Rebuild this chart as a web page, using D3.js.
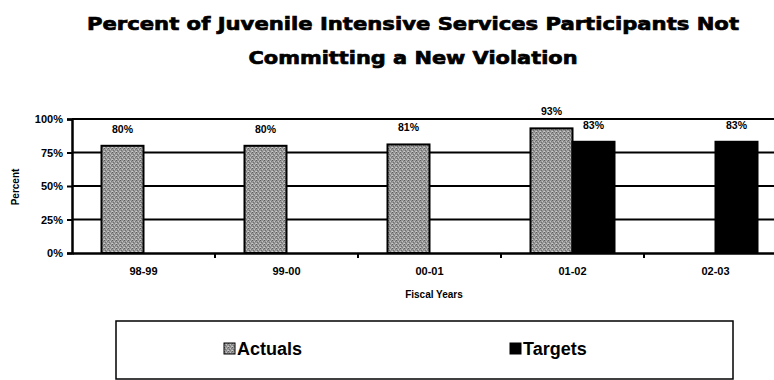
<!DOCTYPE html>
<html>
<head>
<meta charset="utf-8">
<script src="https://cdn.jsdelivr.net/npm/d3@7"></script>
<style>
  html, body { margin: 0; padding: 0; background: #fff; }
  svg { display: block; }
</style>
</head>
<body>
<svg id="chart" width="774" height="380"></svg>
<script>
// Fiscal years and the two series
const fiscalYears = ["98-99", "99-00", "00-01", "01-02", "02-03"];
const actuals = [80, 80, 81, 93, null];
const targets = [null, null, null, 83, 83];
const seriesNames = ["Actuals", "Targets"];
const yTicks = [0, 25, 50, 75, 100];

const titleLines = [
  "Percent of Juvenile Intensive Services Participants Not",
  "Committing a New Violation"
];

const svg = d3.select("#chart");

// Dotted grey fill for the actuals bars
const defs = svg.append("defs");
const pat = defs.append("pattern")
  .attr("id", "stipple").attr("patternUnits", "userSpaceOnUse")
  .attr("width", 4).attr("height", 4);
pat.append("rect").attr("width", 4).attr("height", 4).attr("fill", "#999");
[[0,0,"#5e5e5e"],[2,1,"#c4c4c4"],[1,2,"#6e6e6e"],[3,3,"#b8b8b8"],[3,1,"#7c7c7c"],[0,3,"#cccccc"],[2,3,"#808080"]]
  .forEach(([x, y, c]) => pat.append("rect").attr("x", x).attr("y", y)
    .attr("width", 1).attr("height", 1).attr("fill", c));

const plot = { left: 72, right: 787, top: 119, bottom: 253 };

const x0 = d3.scaleBand().domain(fiscalYears).range([plot.left, plot.right]).padding(0);
const bw = x0.bandwidth();
const x1 = d3.scaleBand().domain(seriesNames).range([bw / 2 - 42, bw / 2 + 42]).padding(0);
const y = d3.scaleLinear().domain([0, 100]).range([plot.bottom, plot.top]);

// Title
svg.append("g").selectAll("text").data(titleLines).join("text")
  .attr("x", 413).attr("y", (d, i) => 30 + i * 34)
  .attr("text-anchor", "middle")
  .attr("font-family", "DejaVu Sans, sans-serif")
  .attr("font-weight", "bold").attr("font-size", 18.5)
  .attr("stroke", "#000").attr("stroke-width", 0.7)
  .attr("textLength", (d, i) => i === 0 ? 652 : 329)
  .attr("lengthAdjust", "spacingAndGlyphs")
  .text(d => d);

// Records for both series
const rows = [];
fiscalYears.forEach((fy, i) => {
  if (actuals[i] != null) rows.push({ fy, s: "Actuals", v: actuals[i] });
  if (targets[i] != null) rows.push({ fy, s: "Targets", v: targets[i] });
});

// Value labels (under the gridlines, as printed)
svg.append("g").selectAll("text").data(rows).join("text")
  .attr("x", d => x0(d.fy) + x1(d.s) + x1.bandwidth() / 2)
  .attr("y", d => y(d.v) - 13)
  .attr("text-anchor", "middle")
  .attr("font-family", "Liberation Sans, Arial, sans-serif")
  .attr("font-weight", "bold").attr("font-size", 10.5)
  .text(d => d.v + "%");

// Gridlines
svg.append("g").selectAll("line").data(yTicks.filter(t => t > 0)).join("line")
  .attr("x1", plot.left).attr("x2", plot.right)
  .attr("y1", d => y(d)).attr("y2", d => y(d))
  .attr("stroke", "#000").attr("stroke-width", 2);

// Bars
svg.append("g").selectAll("rect").data(rows).join("rect")
  .attr("x", d => x0(d.fy) + x1(d.s))
  .attr("y", d => y(d.v))
  .attr("width", x1.bandwidth())
  .attr("height", d => y(0) - y(d.v))
  .attr("fill", d => d.s === "Actuals" ? "url(#stipple)" : "#000")
  .attr("stroke", "#000").attr("stroke-width", 2);

// Y axis
const yAxis = svg.append("g").attr("transform", `translate(${plot.left},0)`)
  .call(d3.axisLeft(y).tickValues(yTicks).tickFormat(d => d + "%").tickSize(5).tickPadding(4));
yAxis.select(".domain").attr("stroke-width", 2.5);
yAxis.selectAll(".tick line").attr("stroke-width", 2);
yAxis.selectAll("text")
  .attr("font-family", "Liberation Sans, Arial, sans-serif")
  .attr("font-weight", "bold").attr("font-size", 11).attr("fill", "#000");

// X axis
const xAxis = svg.append("g").attr("transform", `translate(0,${plot.bottom})`)
  .call(d3.axisBottom(x0).tickSize(0).tickPadding(14));
xAxis.select(".domain").attr("stroke-width", 2.5);
xAxis.selectAll("text")
  .attr("font-family", "Liberation Sans, Arial, sans-serif")
  .attr("font-weight", "bold").attr("font-size", 11).attr("fill", "#000");
// Tick marks between the years
svg.append("g").selectAll("line").data(fiscalYears.slice(1)).join("line")
  .attr("x1", d => x0(d)).attr("x2", d => x0(d))
  .attr("y1", plot.bottom).attr("y2", plot.bottom + 5)
  .attr("stroke", "#000").attr("stroke-width", 2);

// Axis titles
svg.append("text")
  .attr("transform", `translate(19,187) rotate(-90)`)
  .attr("text-anchor", "middle")
  .attr("font-family", "Liberation Sans Narrow, Liberation Sans, Arial, sans-serif")
  .attr("font-weight", "bold").attr("font-size", 10)
  .text("Percent");
svg.append("text")
  .attr("x", 434).attr("y", 298)
  .attr("text-anchor", "middle")
  .attr("font-family", "Liberation Sans Narrow, Liberation Sans, Arial, sans-serif")
  .attr("font-weight", "bold").attr("font-size", 10)
  .text("Fiscal Years");

// Legend
const legend = svg.append("g");
legend.append("rect")
  .attr("x", 116).attr("y", 321).attr("width", 617).attr("height", 58)
  .attr("fill", "none").attr("stroke", "#000").attr("stroke-width", 1.5);
const legendX = { Actuals: 224, Targets: 510 };
const item = legend.selectAll("g.item").data(seriesNames).join("g")
  .attr("class", "item")
  .attr("transform", d => `translate(${legendX[d]},343)`);
item.append("rect")
  .attr("width", 11).attr("height", 11)
  .attr("fill", d => d === "Actuals" ? "url(#stipple)" : "#000")
  .attr("stroke", "#000").attr("stroke-width", 1);
item.append("text")
  .attr("x", 13).attr("y", 12)
  .attr("font-family", "Liberation Sans, Arial, sans-serif")
  .attr("font-weight", "bold").attr("font-size", 18)
  .text(d => d);
</script>
</body>
</html>
